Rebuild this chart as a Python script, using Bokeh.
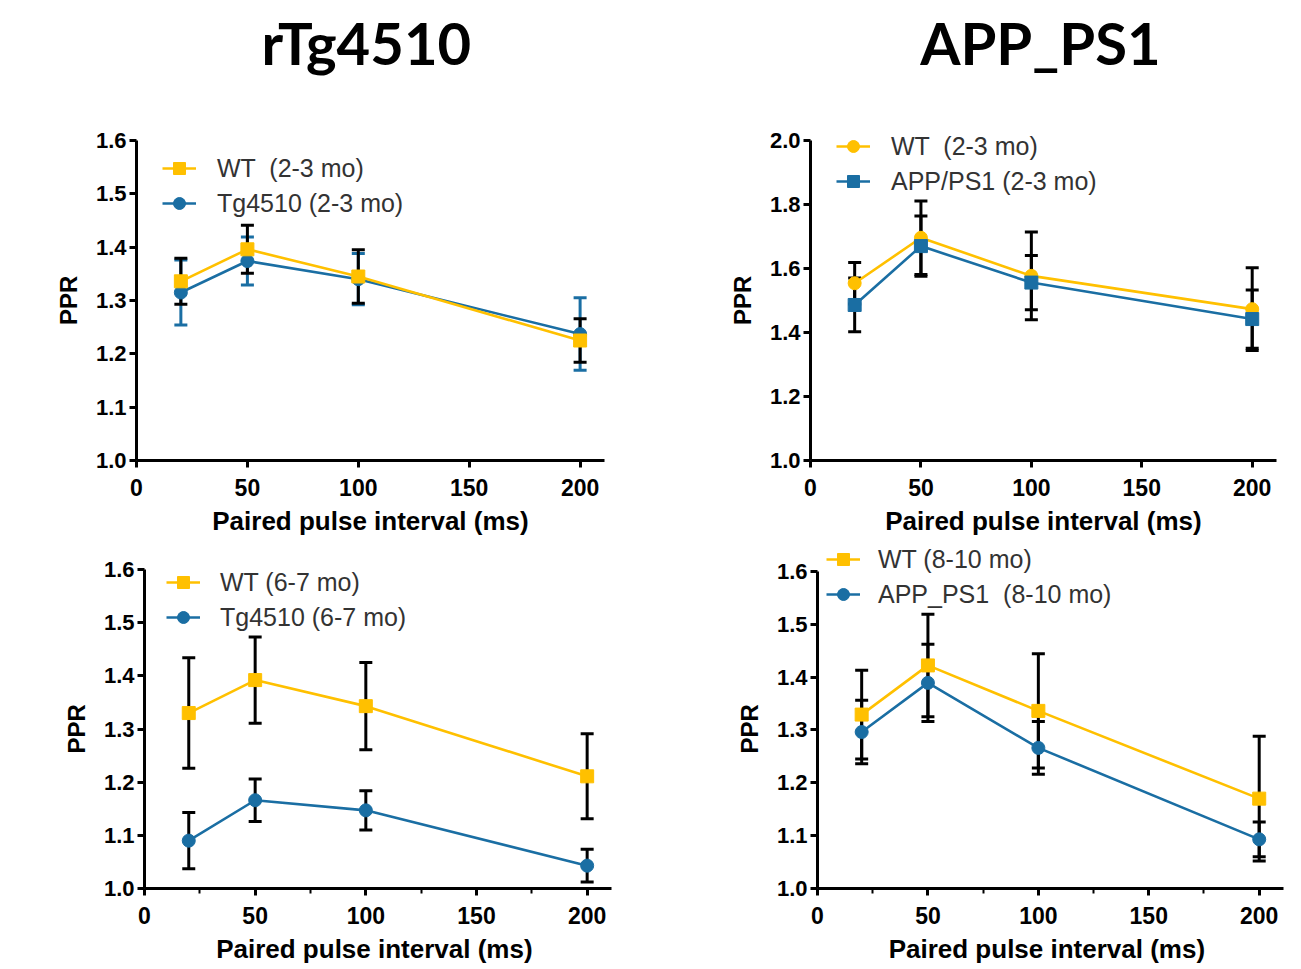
from bokeh.plotting import figure
from bokeh.models import (ColumnDataSource, Whisker, TeeHead, Range1d, FixedTicker,
                          NumeralTickFormatter, Legend, LegendItem, Label, Title)
from bokeh.layouts import column, row
from bokeh.embed import file_html
from bokeh.resources import INLINE

# ---------------- data ----------------
intervals = [20, 50, 100, 200]
x_ticks = [0, 50, 100, 150, 200]
x_minor = [25, 75, 125, 175]

# rTg4510, 2-3 months
wt_23 = [1.336, 1.396, 1.345, 1.225]
wt_23_err = [0.043, 0.045, 0.050, 0.041]
tg_23 = [1.315, 1.374, 1.340, 1.237]
tg_23_err = [0.061, 0.045, 0.048, 0.068]

# APP_PS1, 2-3 months
wtA_23 = [1.554, 1.696, 1.577, 1.473]
wtA_23_err = [0.065, 0.115, 0.137, 0.129]
app_23 = [1.486, 1.670, 1.556, 1.442]
app_23_err = [0.084, 0.094, 0.085, 0.091]

# rTg4510, 6-7 months
wt_67 = [1.330, 1.392, 1.343, 1.211]
wt_67_err = [0.104, 0.081, 0.082, 0.080]
tg_67 = [1.090, 1.166, 1.147, 1.043]
tg_67_err = [0.053, 0.040, 0.037, 0.031]

# APP_PS1, 8-10 months
wt_810 = [1.329, 1.422, 1.336, 1.170]
wt_810_err = [0.084, 0.097, 0.108, 0.118]
app_810 = [1.296, 1.389, 1.266, 1.093]
app_810_err = [0.060, 0.073, 0.050, 0.033]

titles = ["rTg4510", "APP_PS1"]
x_label = "Paired pulse interval (ms)"
x_label2 = "Paired pulse interval  (ms)"
y_label = "PPR"

YELLOW = "#FFC000"
BLUE = "#1A6EA3"
FONT = "Liberation Sans"
X_MAX = 211
PPR_LEN = 49  # approx. rendered length of the rotated "PPR" label in px


def make_panel(width, height, left, right, axis_top_px, bottom, y_max, y_ticks, xlab, minor):
    # frame spans the whole canvas height above the x axis; the y axis line is
    # bounded to [1.0, y_max] so that it starts axis_top_px below the canvas top
    frame_h = height - bottom
    axis_h = frame_h - axis_top_px
    y_end = 1.0 + (y_max - 1.0) * frame_h / axis_h
    p = figure(width=width, height=height, output_backend="svg", toolbar_location=None,
               x_range=Range1d(0, X_MAX), y_range=Range1d(1.0, y_end),
               min_border_left=left, min_border_right=right,
               min_border_top=0, min_border_bottom=bottom)
    p.outline_line_color = None
    p.grid.visible = False
    p.xaxis.ticker = FixedTicker(ticks=x_ticks, minor_ticks=x_minor if minor else [])
    p.yaxis.ticker = FixedTicker(ticks=y_ticks)
    p.yaxis.formatter = NumeralTickFormatter(format="0.0")
    p.xaxis.bounds = (0, X_MAX)
    p.yaxis.bounds = (1.0, y_max)
    for ax in (p.xaxis[0], p.yaxis[0]):
        ax.axis_line_width = 3
        ax.axis_line_color = "black"
        ax.major_tick_line_width = 3
        ax.major_tick_line_color = "black"
        ax.major_tick_out = 7
        ax.major_tick_in = 0
        ax.minor_tick_line_width = 2
        ax.minor_tick_line_color = "black" if minor else None
        ax.minor_tick_out = 5
        ax.minor_tick_in = 0
        ax.major_label_text_font = FONT
        ax.major_label_text_font_style = "bold"
        ax.major_label_text_color = "black"
        ax.axis_label_text_font = FONT
        ax.axis_label_text_font_style = "bold"
        ax.axis_label_text_color = "black"
    p.yaxis[0].minor_tick_line_color = None
    p.xaxis.major_label_text_font_size = "23px"
    p.yaxis.major_label_text_font_size = "22px"
    p.xaxis.major_label_standoff = 11
    p.yaxis.major_label_standoff = 3
    p.xaxis.axis_label = xlab
    p.xaxis.axis_label_text_font_size = "26px"
    p.xaxis.axis_label_standoff = 7
    # y label: a side title centred on the bounded axis (not on the taller frame)
    p.add_layout(Title(text=y_label, align="left", offset=axis_h / 2 - PPR_LEN / 2,
                       text_font=FONT, text_font_style="bold", text_font_size="24px",
                       text_color="black", standoff=22), "left")
    return p


def add_series(p, ys, errs, color, marker, err_color):
    src = ColumnDataSource(dict(x=intervals, y=ys,
                                upper=[a + b for a, b in zip(ys, errs)],
                                lower=[a - b for a, b in zip(ys, errs)]))
    w = Whisker(base="x", upper="upper", lower="lower", source=src,
                line_color=err_color, line_width=3, level="underlay",
                upper_head=TeeHead(size=13, line_color=err_color, line_width=3),
                lower_head=TeeHead(size=13, line_color=err_color, line_width=3))
    p.add_layout(w)
    ln = p.line("x", "y", source=src, line_color=color, line_width=2.6)
    sc = p.scatter("x", "y", source=src, marker=marker, size=13,
                   fill_color=color, line_color=color)
    return [ln, sc]


def add_legend(p, items, loc, standoff):
    lg = Legend(items=[LegendItem(label=lab, renderers=r) for lab, r in items],
                location=loc, glyph_width=34, glyph_height=30, label_height=30,
                label_standoff=standoff, spacing=5, padding=0, margin=0,
                border_line_color=None, background_fill_alpha=0,
                label_text_font=FONT, label_text_font_size="25px",
                label_text_color="#333333")
    p.add_layout(lg)


def add_title(p, text, x, y):
    p.add_layout(Label(x=x, y=y, text=text, text_align="center", text_baseline="middle",
                       text_font="Lato", text_font_style="bold", text_font_size="58px",
                       text_color="black"))


ticks_16 = [1.0, 1.1, 1.2, 1.3, 1.4, 1.5, 1.6]
ticks_20 = [1.0, 1.2, 1.4, 1.6, 1.8, 2.0]

# top-left
p1 = make_panel(660, 540, 136, 56, 140, 80, 1.6, ticks_16, x_label, False)
r_tg = add_series(p1, tg_23, tg_23_err, BLUE, "circle", BLUE)
r_wt = add_series(p1, wt_23, wt_23_err, YELLOW, "square", "black")
add_legend(p1, [("WT  (2-3 mo)", r_wt), ("Tg4510 (2-3 mo)", r_tg)], (26, 242), 21)
add_title(p1, titles[0], 103.6, 1.784)

# top-right
p2 = make_panel(641, 540, 150, 25, 140, 80, 2.0, ticks_20, x_label, False)
r_wt2 = add_series(p2, wtA_23, wtA_23_err, YELLOW, "circle", "black")
r_app2 = add_series(p2, app_23, app_23_err, BLUE, "square", "black")
add_legend(p2, [("WT  (2-3 mo)", r_wt2), ("APP/PS1 (2-3 mo)", r_app2)], (26, 264), 21)
add_title(p2, titles[1], 104.1, 2.306)

# bottom-left
p3 = make_panel(660, 429, 144, 49, 29, 81, 1.6, ticks_16, x_label2, True)
r_wt3 = add_series(p3, wt_67, wt_67_err, YELLOW, "square", "black")
r_tg3 = add_series(p3, tg_67, tg_67_err, BLUE, "circle", "black")
add_legend(p3, [("WT (6-7 mo)", r_wt3), ("Tg4510 (6-7 mo)", r_tg3)], (22, 256), 20)

# bottom-right
p4 = make_panel(641, 429, 157, 18, 31, 79, 1.6, ticks_16, x_label2, True)
r_wt4 = add_series(p4, wt_810, wt_810_err, YELLOW, "square", "black")
r_app4 = add_series(p4, app_810, app_810_err, BLUE, "circle", "black")
add_legend(p4, [("WT (8-10 mo)", r_wt4), ("APP_PS1  (8-10 mo)", r_app4)], (9, 279), 18)

layout = column(row(p1, p2), row(p3, p4))
open("out.html", "w").write(file_html(layout, INLINE))
